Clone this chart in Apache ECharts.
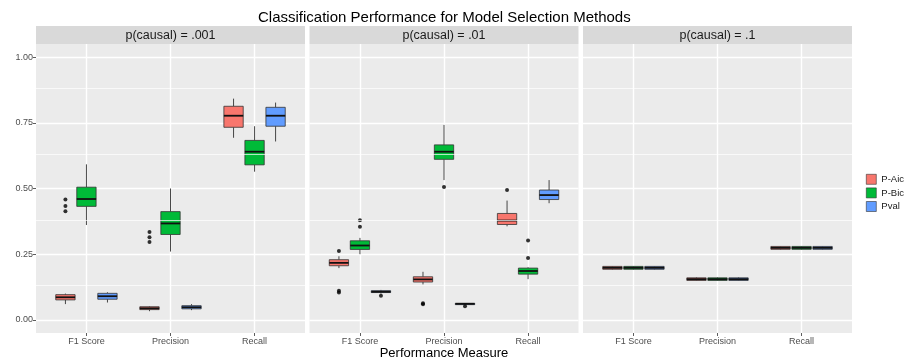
<!DOCTYPE html>
<html><head><meta charset="utf-8">
<script src="https://cdn.jsdelivr.net/npm/echarts@6/dist/echarts.min.js"></script>
<style>html,body{margin:0;padding:0;background:#fff}#c{width:906px;height:362px}</style>
</head><body><div id="c"></div>
<script>
// ---- data ----
const categories = ['F1 Score', 'Precision', 'Recall'];
const methods = ['P-Aic', 'P-Bic', 'Pval'];
const panelTitles = ['p(causal) = .001', 'p(causal) = .01', 'p(causal) = .1'];
const yTicks = [0, 0.25, 0.5, 0.75, 1];
const yMinorTicks = [0.125, 0.375, 0.625, 0.875];
const yTickLabels = ['0.00', '0.25', '0.50', '0.75', '1.00'];

// box stats per category: [lower whisker, Q1, median, Q3, upper whisker]
const aic001 = [[0.060, 0.076, 0.086, 0.096, 0.100], [0.033, 0.039, 0.044, 0.050, 0.052], [0.693, 0.733, 0.777, 0.813, 0.842]];
const bic001 = [[0.361, 0.432, 0.460, 0.505, 0.592], [0.260, 0.325, 0.367, 0.412, 0.500], [0.564, 0.590, 0.640, 0.683, 0.737]];
const pval001 = [[0.066, 0.0785, 0.090, 0.101, 0.105], [0.037, 0.042, 0.048, 0.054, 0.060], [0.679, 0.737, 0.777, 0.809, 0.827]];

const aic01 = [[0.197, 0.206, 0.217, 0.229, 0.242], [0.135, 0.144, 0.154, 0.164, 0.183], [0.356, 0.363, 0.378, 0.405, 0.454]];
const bic01 = [[0.250, 0.268, 0.283, 0.301, 0.312], [0.532, 0.611, 0.640, 0.666, 0.742], [0.155, 0.174, 0.186, 0.197, 0.200]];
const pval01 = [[0.100, 0.104, 0.107, 0.111, 0.114], [0.056, 0.058, 0.061, 0.063, 0.064], [0.444, 0.458, 0.475, 0.494, 0.532]];

const aic1 = [[0.191, 0.1925, 0.198, 0.2035, 0.205], [0.149, 0.150, 0.155, 0.160, 0.162], [0.267, 0.2685, 0.274, 0.2795, 0.281]];
const bic1 = [[0.191, 0.1925, 0.198, 0.2035, 0.205], [0.149, 0.150, 0.155, 0.160, 0.162], [0.267, 0.2685, 0.274, 0.2795, 0.281]];
const pval1 = [[0.191, 0.1925, 0.198, 0.2035, 0.205], [0.149, 0.150, 0.155, 0.160, 0.162], [0.267, 0.2685, 0.274, 0.2795, 0.281]];

// outliers: [category index, value]
const aicOut001 = [[0, 0.458], [0, 0.433], [0, 0.413], [1, 0.334], [1, 0.314], [1, 0.296]];
const bicOut001 = [];
const pvalOut001 = [];
const aicOut01 = [[0, 0.262], [0, 0.111], [0, 0.104], [1, 0.063], [1, 0.059], [2, 0.494]];
const bicOut01 = [[0, 0.379], [0, 0.354], [1, 0.506], [2, 0.302], [2, 0.235]];
const pvalOut01 = [[0, 0.092], [1, 0.052]];
const aicOut1 = [];
const bicOut1 = [];
const pvalOut1 = [];

const panelBoxes = [[aic001, bic001, pval001], [aic01, bic01, pval01], [aic1, bic1, pval1]];
const panelOutliers = [[aicOut001, bicOut001, pvalOut001], [aicOut01, bicOut01, pvalOut01], [aicOut1, bicOut1, pvalOut1]];

// ---- styling / layout ----
const colors = ['#F8766D', '#00BA38', '#619CFF'];
const dodge = [-0.25, 0, 0.25];
const BOXW = 0.23;
const FONT = '"Liberation Sans", Arial, sans-serif';
const panelLeft = [36, 309.5, 583];
const panelW = 269;
const plotTop = 44, plotH = 289;
const stripTop = 26, stripH = 18;

function renderBox(params, api) {
  const x = api.value(0);
  const pLo = api.coord([x, api.value(1)]);
  const pQ1 = api.coord([x, api.value(2)]);
  const pMed = api.coord([x, api.value(3)]);
  const pQ3 = api.coord([x, api.value(4)]);
  const pHi = api.coord([x, api.value(5)]);
  const w = api.size([BOXW, 0])[0];
  const color = api.visual('color');
  return {
    type: 'group',
    children: [
      { type: 'line', shape: { x1: pHi[0], y1: pHi[1], x2: pQ3[0], y2: pQ3[1] }, style: { stroke: '#333', lineWidth: 0.9 } },
      { type: 'line', shape: { x1: pQ1[0], y1: pQ1[1], x2: pLo[0], y2: pLo[1] }, style: { stroke: '#333', lineWidth: 0.9 } },
      { type: 'rect', shape: { x: pQ3[0] - w / 2, y: pQ3[1], width: w, height: pQ1[1] - pQ3[1] }, style: { fill: color, stroke: '#333', lineWidth: 0.8 } },
      { type: 'line', shape: { x1: pMed[0] - w / 2, y1: pMed[1], x2: pMed[0] + w / 2, y2: pMed[1] }, style: { stroke: '#111', lineWidth: 1.8 } }
    ]
  };
}

const grids = [], xAxes = [], yAxes = [], series = [], graphics = [];
for (let p = 0; p < 3; p++) {
  grids.push({ left: panelLeft[p], top: plotTop, width: panelW, height: plotH, show: true, backgroundColor: '#EBEBEB', borderWidth: 0, containLabel: false, outerBoundsMode: 'none' });
  xAxes.push({
    type: 'value', gridIndex: p, min: 0.4, max: 3.6, position: 'bottom',
    axisLine: { show: false, onZero: false },
    axisTick: { show: true, customValues: [1, 2, 3], length: 3, lineStyle: { color: '#333', width: 0.8 } },
    axisLabel: { show: true, customValues: [1, 2, 3], formatter: v => categories[Math.round(v) - 1], fontSize: 9, color: '#4d4d4d', fontFamily: FONT, margin: 4 },
    splitLine: { show: true, lineStyle: { color: '#fff', width: 1.4 } },
    name: p === 1 ? 'Performance Measure' : '', nameLocation: 'middle', nameGap: 14, nameMoveOverlap: false,
    nameTextStyle: { fontSize: 13, color: '#000', fontFamily: FONT }
  });
  yAxes.push({
    type: 'value', gridIndex: p, min: -0.05, max: 1.05,
    axisLine: { show: false, onZero: false },
    axisTick: { show: p === 0, customValues: yTicks, length: 3, lineStyle: { color: '#333', width: 0.8 } },
    axisLabel: { show: p === 0, customValues: yTicks, formatter: v => yTickLabels[yTicks.indexOf(Math.round(v * 100) / 100)], fontSize: 9, color: '#4d4d4d', fontFamily: FONT, margin: 3 },
    splitLine: { show: true, lineStyle: { color: '#fff', width: 1.4 } }
  });
  // minor grid lines
  series.push({
    type: 'line', xAxisIndex: p, yAxisIndex: p, data: [], z: 1, silent: true,
    markLine: { silent: true, symbol: ['none', 'none'], label: { show: false }, animation: false,
      lineStyle: { color: '#fff', width: 0.7, type: 'solid' },
      data: yMinorTicks.map(v => ({ yAxis: v })) }
  });
  for (let m = 0; m < 3; m++) {
    series.push({
      type: 'custom', name: methods[m], xAxisIndex: p, yAxisIndex: p, z: 3,
      itemStyle: { color: colors[m] },
      renderItem: renderBox,
      encode: { x: 0, y: [1, 2, 3, 4, 5] },
      data: panelBoxes[p][m].map((s, c) => [c + 1 + dodge[m], s[0], s[1], s[2], s[3], s[4]])
    });
    series.push({
      type: 'scatter', xAxisIndex: p, yAxisIndex: p, z: 4, symbolSize: 4,
      itemStyle: { color: '#000' },
      data: panelOutliers[p][m].map(o => [o[0] + 1 + dodge[m], o[1]])
    });
  }
  graphics.push({ type: 'rect', left: panelLeft[p], top: stripTop, shape: { width: panelW, height: stripH }, style: { fill: '#D9D9D9' }, silent: true });
  graphics.push({ type: 'text', x: panelLeft[p] + panelW / 2, y: stripTop + stripH / 2 + 0.5,
    style: { text: panelTitles[p], fill: '#1a1a1a', fontSize: 12.5, fontFamily: FONT, align: 'center', verticalAlign: 'middle' } });
}

const chart = echarts.init(document.getElementById('c'), null, { renderer: 'canvas' });
chart.setOption({
  animation: false,
  backgroundColor: '#fff',
  title: { text: 'Classification Performance for Model Selection Methods', left: 253, top: 5,
    textStyle: { fontSize: 15, fontWeight: 'normal', color: '#000', fontFamily: FONT } },
  legend: {
    orient: 'vertical', left: 866, top: 174, padding: 0, itemWidth: 10, itemHeight: 10, itemGap: 3, icon: 'rect',
    itemStyle: { borderColor: '#333', borderWidth: 0.6 },
    textStyle: { fontSize: 9.5, color: '#1a1a1a', fontFamily: FONT },
    data: methods
  },
  grid: grids, xAxis: xAxes, yAxis: yAxes, series: series, graphic: graphics
});
</script></body></html>
